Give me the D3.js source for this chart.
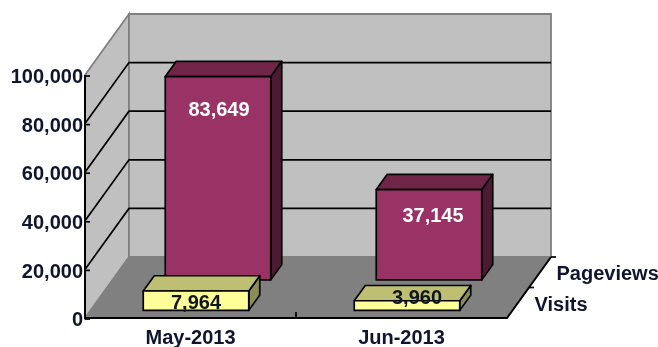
<!DOCTYPE html>
<html>
<head>
<meta charset="utf-8">
<script src="https://d3js.org/d3.v7.min.js"></script>
<style>
html,body{margin:0;padding:0;background:#fff;}
svg{display:block;filter:blur(0.45px);}
text{font-family:"Liberation Sans",Arial,sans-serif;font-weight:700;}
</style>
</head>
<body>
<svg id="chart" width="658" height="347"></svg>
<script>
// Monthly site traffic
const months = ["May-2013", "Jun-2013"];
const seriesNames = ["Visits", "Pageviews"];
const visits = [7964, 3960];
const pageviews = [83649, 37145];
const yTicks = [0, 20000, 40000, 60000, 80000, 100000];

const svg = d3.select("#chart");
const fontSize = 20;

// Oblique box: months run along x, values up y, series go back in depth
const x = d3.scaleBand().domain(months).range([85, 507]).paddingInner(0.5).paddingOuter(0.25);
const y = d3.scaleLinear().domain([0, 100000]).range([318, 75]);
const depth = d3.scaleBand().domain(seriesNames).range([0, 1]).paddingInner(0.5).paddingOuter(0.25);
const depthX = d3.scaleLinear().domain([0, 1]).range([0, 44]);
const depthY = d3.scaleLinear().domain([0, 1]).range([0, -61]);

const pt = (px, value, d) => [px + depthX(d), y(value) + depthY(d)];
const line = d3.line();
const poly = pts => line(pts) + "Z";
const x0 = x.range()[0], x1 = x.range()[1];
const vMax = y.domain()[1];

// Walls and floor
svg.append("path").attr("d", poly([pt(x0,0,0), pt(x0,vMax,0), pt(x0,vMax,1), pt(x0,0,1)]))
  .attr("fill", "#c0c0c0").attr("stroke", "#808080").attr("stroke-width", 1.8);
svg.append("path").attr("d", poly([pt(x0,0,1), pt(x0,vMax,1), pt(x1,vMax,1), pt(x1,0,1)]))
  .attr("fill", "#c0c0c0").attr("stroke", "#808080").attr("stroke-width", 1.8);
svg.append("path").attr("d", poly([pt(x0,0,0), pt(x1,0,0), pt(x1,0,1), pt(x0,0,1)]))
  .attr("fill", "#808080").attr("stroke", "#808080");

// Gridlines across the side and back walls
const grid = yTicks.filter(t => t > 0 && t < vMax);
svg.append("g").selectAll("path").data(grid).join("path")
  .attr("d", t => line([pt(x0,t,0), pt(x0,t,1), pt(x1,t,1)]))
  .attr("fill", "none").attr("stroke", "#000").attr("stroke-width", 1.7);

// One extruded bar
function bar(month, name, value, front, top, side) {
  const l = x(month), r = l + x.bandwidth();
  const d0 = depth(name), d1 = d0 + depth.bandwidth();
  const g = svg.append("g").attr("stroke", "#000").attr("stroke-width", 1.7).attr("stroke-linejoin", "round");
  g.append("path").attr("fill", side).attr("d", poly([pt(r,0,d0), pt(r,value,d0), pt(r,value,d1), pt(r,0,d1)]));
  g.append("path").attr("fill", top).attr("d", poly([pt(l,value,d0), pt(r,value,d0), pt(r,value,d1), pt(l,value,d1)]));
  g.append("path").attr("fill", front).attr("d", poly([pt(l,0,d0), pt(r,0,d0), pt(r,value,d0), pt(l,value,d0)]));
}
months.forEach((m, i) => {
  bar(m, "Pageviews", pageviews[i], "#993366", "#702549", "#4d1a33");
  bar(m, "Visits", visits[i], "#ffff99", "#bfbf73", "#8c8c55");
});

// Front axes
const axisG = svg.append("g").attr("stroke", "#000").attr("fill", "none");
axisG.append("path").attr("stroke-width", 2).attr("d", line([pt(x0,vMax,0), pt(x0,0,0), pt(x1,0,0), pt(x1,0,1)]));
axisG.selectAll(".ytick").data(yTicks).join("path").attr("class", "ytick").attr("stroke-width", 1.7)
  .attr("d", t => line([[x0, y(t) + 1], [x0 + 5, y(t) + 1]]));
axisG.append("path").attr("stroke-width", 1.7)
  .attr("d", line([[x0 + (x1 - x0) / 2, y(0)], [x0 + (x1 - x0) / 2, y(0) - 6]]));
axisG.selectAll(".dtick").data([0.5, 1]).join("path").attr("class", "dtick").attr("stroke-width", 1.7)
  .attr("d", d => { const p = pt(x1,0,d); return line([p, [p[0] + 5, p[1]]]); });

// Value axis labels
svg.append("g").selectAll("text").data(yTicks).join("text")
  .attr("x", 83).attr("y", t => y(t) + 1).attr("dy", "0.36em").attr("text-anchor", "end")
  .attr("font-size", fontSize).attr("fill", "#0f1530").text(d3.format(","));

// Month labels
svg.append("g").selectAll("text").data(months).join("text")
  .attr("x", m => x(m) + x.bandwidth() / 2).attr("y", 337).attr("dy", "0.36em").attr("text-anchor", "middle")
  .attr("font-size", fontSize).attr("fill", "#0f1530").text(m => m);

// Series labels beside the depth axis, level with the middle of each row
svg.append("g").selectAll("text").data(seriesNames).join("text")
  .attr("x", n => pt(x1,0,depth(n))[0] + 22)
  .attr("y", n => pt(x1,0,depth(n))[1] - 7).attr("dy", "0.36em")
  .attr("font-size", fontSize).attr("fill", "#0f1530").text(n => n);

// Data labels sit a little inside each bar, nudged per bar
const fmt = d3.format(",");
const labelNudge = {
  Pageviews: [[1, 32], [4, 25]],
  Visits: [[0, 11], [10, -4]]
};
const labelRows = [["Pageviews", pageviews, "#fff"], ["Visits", visits, "#10161f"]];
labelRows.forEach(([name, values, colour]) => {
  months.forEach((m, i) => {
    const d0 = depth(name);
    const p = pt(x(m) + x.bandwidth() / 2, values[i], d0);
    svg.append("text")
      .attr("x", p[0] + labelNudge[name][i][0]).attr("y", p[1] + labelNudge[name][i][1])
      .attr("dy", "0.36em").attr("text-anchor", "middle")
      .attr("font-size", fontSize).attr("fill", colour).text(fmt(values[i]));
  });
});
</script>
</body>
</html>
